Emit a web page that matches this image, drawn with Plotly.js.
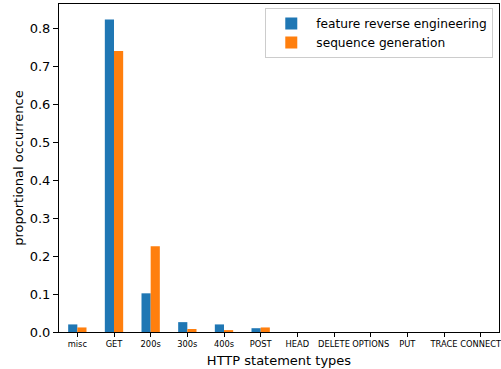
<!DOCTYPE html>
<html>
<head>
<meta charset="utf-8">
<script src="https://cdn.plot.ly/plotly-3.0.1.min.js"></script>
<style>html,body{margin:0;padding:0;background:#fff;}#chart{width:501px;height:369px;}</style>
</head>
<body>
<div id="chart"></div>
<script>
const categories = ["misc", "GET", "200s", "300s", "400s", "POST", "HEAD", "DELETE", "OPTIONS", "PUT", "TRACE", "CONNECT"];
const featureReverse = [0.020, 0.824, 0.102, 0.026, 0.020, 0.010, 0, 0, 0, 0, 0, 0];
const sequenceGen = [0.012, 0.741, 0.226, 0.008, 0.005, 0.012, 0, 0, 0, 0, 0, 0];
const seriesNames = ["feature reverse engineering", "sequence generation"];
const yTicks = [0.0, 0.1, 0.2, 0.3, 0.4, 0.5, 0.6, 0.7, 0.8];

const font = "DejaVu Sans, sans-serif";
const traces = [
  {type: "bar", x: categories, y: featureReverse, name: seriesNames[0], marker: {color: "#1f77b4"}},
  {type: "bar", x: categories, y: sequenceGen, name: seriesNames[1], marker: {color: "#ff7f0e"}}
];
const layout = {
  width: 501, height: 369,
  margin: {l: 59, r: 2, t: 4, b: 37},
  paper_bgcolor: "#fff", plot_bgcolor: "#fff",
  font: {family: font, color: "#000", size: 13},
  barmode: "group", bargap: 0.5, bargroupgap: 0,
  showlegend: true,
  legend: {x: 0.987, y: 0.988, xanchor: "right", yanchor: "top",
    bgcolor: "rgba(255,255,255,0.8)", bordercolor: "#cccccc", borderwidth: 1,
    itemwidth: 40,
    font: {family: font, size: 12.2, color: "#000"}, tracegroupgap: 0},
  xaxis: {
    type: "category", range: [-0.5, 11.5],
    showline: true, mirror: true, linecolor: "#000", linewidth: 1,
    ticks: "outside", ticklen: 4, tickcolor: "#000",
    tickfont: {family: font, size: 8.3, color: "#000"},
    showgrid: false, zeroline: false, tickangle: 0,
    title: {text: "HTTP statement types", font: {family: font, size: 13, color: "#000"}, standoff: 7}
  },
  yaxis: {
    range: [0, 0.865], tickvals: yTicks, tickformat: ".1f",
    showline: true, mirror: true, linecolor: "#000", linewidth: 1,
    ticks: "outside", ticklen: 5, tickcolor: "#000",
    tickfont: {family: font, size: 13, color: "#000"},
    showgrid: false, zeroline: false,
    title: {text: "proportional occurrence", font: {family: font, size: 13, color: "#000"}, standoff: 3}
  }
};
Plotly.newPlot("chart", traces, layout, {staticPlot: true, displayModeBar: false});
</script>
</body>
</html>
